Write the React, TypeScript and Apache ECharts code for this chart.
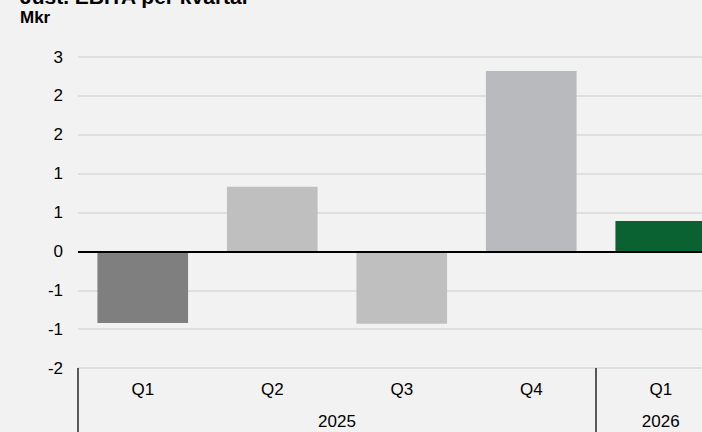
import React, { useEffect, useRef } from "react";
import * as echarts from "echarts";

const quarters = ["Q1", "Q2", "Q3", "Q4", "Q1"];
const quarterYearIndex = [0, 0, 0, 0, 1];
const years = ["2025", "2026"];
const ebitaValues = [-0.92, 0.83, -0.93, 2.32, 0.39];
const barColors = ["#7f7f7f", "#bfbfbf", "#bfbfbf", "#b9babd", "#0a6132"];
const yMin = -1.5;
const yMax = 2.5;
const yStep = 0.5;

const FONT = "'Liberation Sans', Arial, sans-serif";

function excelRound(v: number): string {
  const r = Math.sign(v) * Math.round(Math.abs(v));
  return String(r === 0 ? 0 : r);
}

export default function App() {
  const ref = useRef<HTMLDivElement>(null);

  useEffect(() => {
    document.body.style.margin = "0";
    if (!ref.current) return;
    const chart = echarts.init(ref.current, null, { renderer: "svg" });

    const n = quarters.length;
    const yearCenters: Record<string, string> = {};
    years.forEach((y, yi) => {
      const idx = quarterYearIndex
        .map((q, i) => (q === yi ? i : -1))
        .filter((i) => i >= 0);
      const c = (idx[0] + idx[idx.length - 1] + 1) / 2;
      yearCenters[c.toFixed(2)] = y;
    });
    const boundaryIdx = quarterYearIndex
      .map((q, i) => (i === 0 || q !== quarterYearIndex[i - 1] ? i : -1))
      .filter((i) => i >= 0);

    chart.setOption({
      animation: false,
      backgroundColor: "#f2f2f2",
      textStyle: { fontFamily: FONT },
      grid: { left: 78, top: 57, height: 311, width: 647.5 },
      graphic: [
        {
          type: "text",
          left: 20,
          top: -14.5,
          style: {
            text: "Just. EBITA per kvartal",
            font: `bold 21px ${FONT}`,
            fill: "#000",
          },
        },
        {
          type: "text",
          left: 20,
          top: 9,
          style: {
            text: "Mkr",
            font: `bold 17px ${FONT}`,
            fill: "#000",
          },
        },
      ],
      xAxis: [
        {
          type: "category",
          data: quarters,
          position: "bottom",
          axisLine: { show: false, onZero: false },
          axisTick: {
            show: true,
            length: 64,
            lineStyle: { color: "#262626", width: 1.5 },
            interval: (index: number) => boundaryIdx.indexOf(index) >= 0,
          },
          axisLabel: { color: "#000", fontSize: 17, margin: 13, fontFamily: FONT },
          splitLine: { show: false },
        },
        {
          type: "value",
          min: 0,
          max: n,
          interval: 0.5,
          position: "bottom",
          offset: 32,
          axisLine: { show: false, onZero: false },
          axisTick: { show: false },
          splitLine: { show: false },
          axisLabel: {
            color: "#000",
            fontSize: 17,
            margin: 13,
            fontFamily: FONT,
            showMinLabel: true,
            showMaxLabel: true,
            formatter: (v: number) => yearCenters[v.toFixed(2)] || "",
          },
        },
      ],
      yAxis: {
        type: "value",
        min: yMin,
        max: yMax,
        interval: yStep,
        axisLine: { show: false },
        axisTick: { show: false },
        splitLine: { lineStyle: { color: "#d9d9d9", width: 1.5 } },
        axisLabel: {
          color: "#000",
          fontSize: 17,
          margin: 15,
          fontFamily: FONT,
          formatter: (v: number) => excelRound(v),
        },
      },
      series: [
        {
          type: "bar",
          xAxisIndex: 0,
          data: ebitaValues.map((v, i) => ({
            value: v,
            itemStyle: { color: barColors[i] },
          })),
          barCategoryGap: "30%",
          markLine: {
            silent: true,
            symbol: ["none", "none"],
            label: { show: false },
            lineStyle: { color: "#000", width: 2, type: "solid" },
            data: [{ yAxis: 0 }],
          },
        },
      ],
    });

    return () => chart.dispose();
  }, []);

  return (
    <div style={{ width: 702, height: 432, overflow: "hidden", position: "relative" }}>
      <div ref={ref} style={{ width: 740, height: 432 }} />
    </div>
  );
}
